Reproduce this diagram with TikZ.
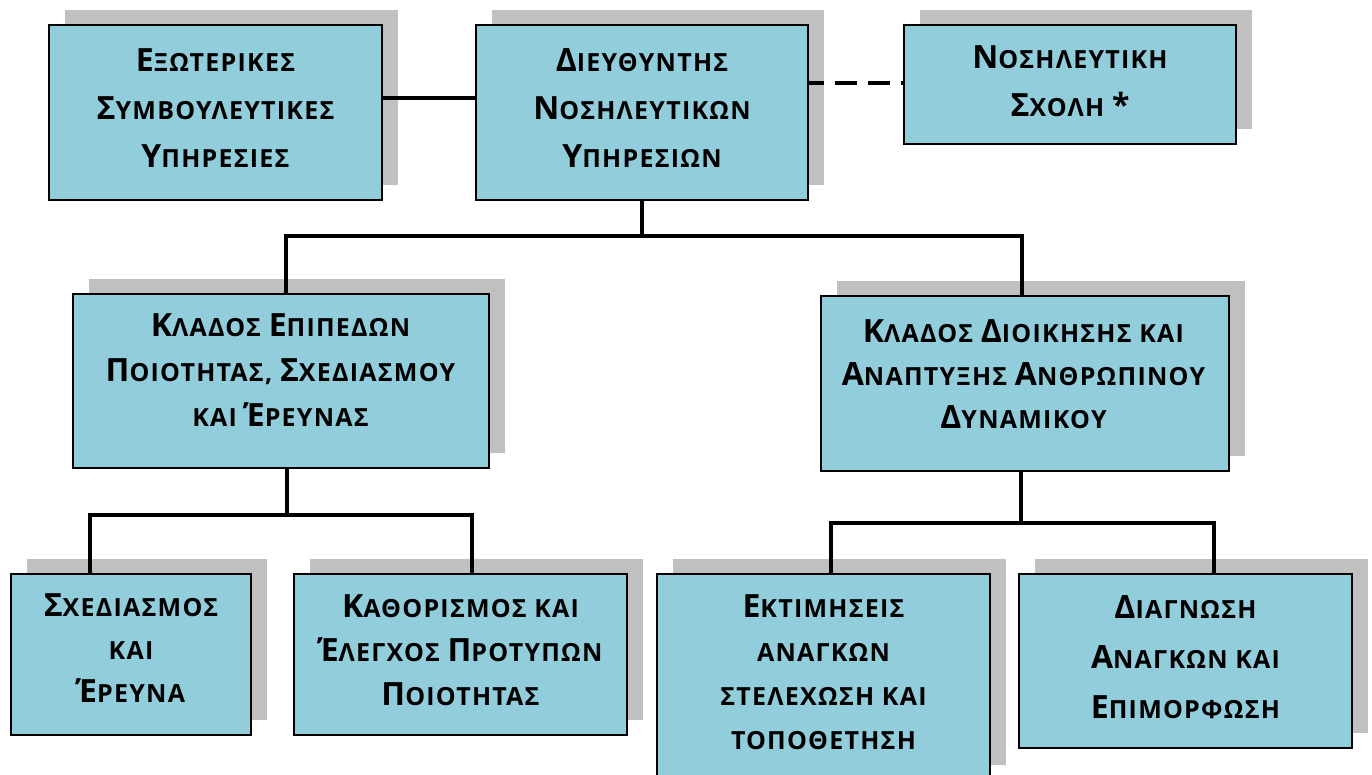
\documentclass[tikz,border=0pt]{standalone}
\usepackage{fontspec}
\setmainfont{Open Sans}[LetterSpace=5]
\usetikzlibrary{shadows}
\definecolor{boxfill}{HTML}{92CDDC}
\definecolor{shadowgray}{HTML}{C0C0C0}
\newcommand\Bg[1]{{\fontsize{32}{46}\selectfont #1}}
\begin{document}
\begin{tikzpicture}[x=1pt,y=-1pt,
  orgbox/.style={draw=black, line width=2pt, fill=boxfill, inner sep=0pt,
    drop shadow={shadow xshift=16pt, shadow yshift=15pt, opacity=1, fill=shadowgray}},
  lbl/.style={align=center, inner sep=0pt, font=\bfseries\fontsize{25}{#1}\selectfont},
  lbl/.default=46,
  conn/.style={line width=3.2pt, black, line join=miter},
]
\useasboundingbox (0,0) rectangle (1372,775);
\clip (0,0) rectangle (1372,775);

% boxes
\node[orgbox, minimum width=333pt, minimum height=175pt] (b1) at (215.5,112.5) {};
\node[orgbox, minimum width=332pt, minimum height=175pt] (b2) at (642,112.5) {};
\node[orgbox, minimum width=332pt, minimum height=119pt] (b3) at (1070,84.5) {};
\node[orgbox, minimum width=416pt, minimum height=174pt] (b4) at (281,381) {};
\node[orgbox, minimum width=408pt, minimum height=175pt] (b5) at (1025,383.5) {};
\node[orgbox, minimum width=240pt, minimum height=161pt] (b6) at (131,654.5) {};
\node[orgbox, minimum width=333pt, minimum height=161pt] (b7) at (460.5,654.5) {};
\node[orgbox, minimum width=333pt, minimum height=206pt] (b8) at (823.5,677) {};
\node[orgbox, minimum width=333pt, minimum height=174pt] (b9) at (1185.5,661) {};

% texts
\node[lbl=48] (t1) at (215.5,108) {\Bg{Ε}ΞΩΤΕΡΙΚΕΣ\\\Bg{Σ}ΥΜΒΟΥΛΕΥΤΙΚΕΣ\\\Bg{Υ}ΠΗΡΕΣΙΕΣ};
\node[lbl=48] (t2) at (642,108) {\Bg{Δ}ΙΕΥΘΥΝΤΗΣ\\\Bg{Ν}ΟΣΗΛΕΥΤΙΚΩΝ\\\Bg{Υ}ΠΗΡΕΣΙΩΝ};
\node[lbl=48] (t3) at (1070,81) {\Bg{Ν}ΟΣΗΛΕΥΤΙΚΗ\\\Bg{Σ}ΧΟΛΗ \Bg{*}};
\node[lbl=45] (t4) at (280.5,370) {\Bg{Κ}ΛΑΔΟΣ \Bg{Ε}ΠΙΠΕΔΩΝ\\\Bg{Π}ΟΙΟΤΗΤΑΣ, \Bg{Σ}ΧΕΔΙΑΣΜΟΥ\\ΚΑΙ \Bg{Έ}ΡΕΥΝΑΣ};
\node[lbl=43] (t5) at (1023.5,374) {\Bg{Κ}ΛΑΔΟΣ \Bg{Δ}ΙΟΙΚΗΣΗΣ ΚΑΙ\\\Bg{Α}ΝΑΠΤΥΞΗΣ \Bg{Α}ΝΘΡΩΠΙΝΟΥ\\\Bg{Δ}ΥΝΑΜΙΚΟΥ};
\node[lbl=43] (t6) at (131,648) {\Bg{Σ}ΧΕΔΙΑΣΜΟΣ\\ΚΑΙ\\\Bg{Έ}ΡΕΥΝΑ};
\node[lbl=44] (t7) at (460.5,650) {\Bg{Κ}ΑΘΟΡΙΣΜΟΣ ΚΑΙ\\\Bg{Έ}ΛΕΓΧΟΣ \Bg{Π}ΡΟΤΥΠΩΝ\\\Bg{Π}ΟΙΟΤΗΤΑΣ};
\node[lbl=44] (t8) at (823.5,672) {\Bg{Ε}ΚΤΙΜΗΣΕΙΣ\\ΑΝΑΓΚΩΝ\\ΣΤΕΛΕΧΩΣΗ ΚΑΙ\\ΤΟΠΟΘΕΤΗΣΗ};
\node[lbl=50] (t9) at (1185.5,657) {\Bg{Δ}ΙΑΓΝΩΣΗ\\\Bg{Α}ΝΑΓΚΩΝ ΚΑΙ\\\Bg{Ε}ΠΙΜΟΡΦΩΣΗ};

% connector helper coordinates
\coordinate (h1) at (0,98);
\coordinate (h2) at (0,83);
\coordinate (u1L) at (286,236);
\coordinate (u1R) at (1022,236);
\coordinate (d4) at (287,515);
\coordinate (u2L) at (90,515);
\coordinate (u2R) at (472,515);
\coordinate (d5) at (1021,523);
\coordinate (u3L) at (831,523);
\coordinate (u3R) at (1214,523);

% connectors
\draw[conn] (b1.east |- h1) -- (b2.west |- h1);
\draw[conn, dash pattern=on 22pt off 11pt, dash phase=7pt] (b2.east |- h2) -- (b3.west |- h2);
\draw[conn] (b2.south) -- (b2.south |- u1L);
\draw[conn] (u1L |- b4.north) -- (u1L) -- (u1R) -- (u1R |- b5.north);
\draw[conn] (d4 |- b4.south) -- (d4);
\draw[conn] (u2L |- b6.north) -- (u2L) -- (u2R) -- (u2R |- b7.north);
\draw[conn] (d5 |- b5.south) -- (d5);
\draw[conn] (u3L |- b8.north) -- (u3L) -- (u3R) -- (u3R |- b9.north);
\end{tikzpicture}
\end{document}
